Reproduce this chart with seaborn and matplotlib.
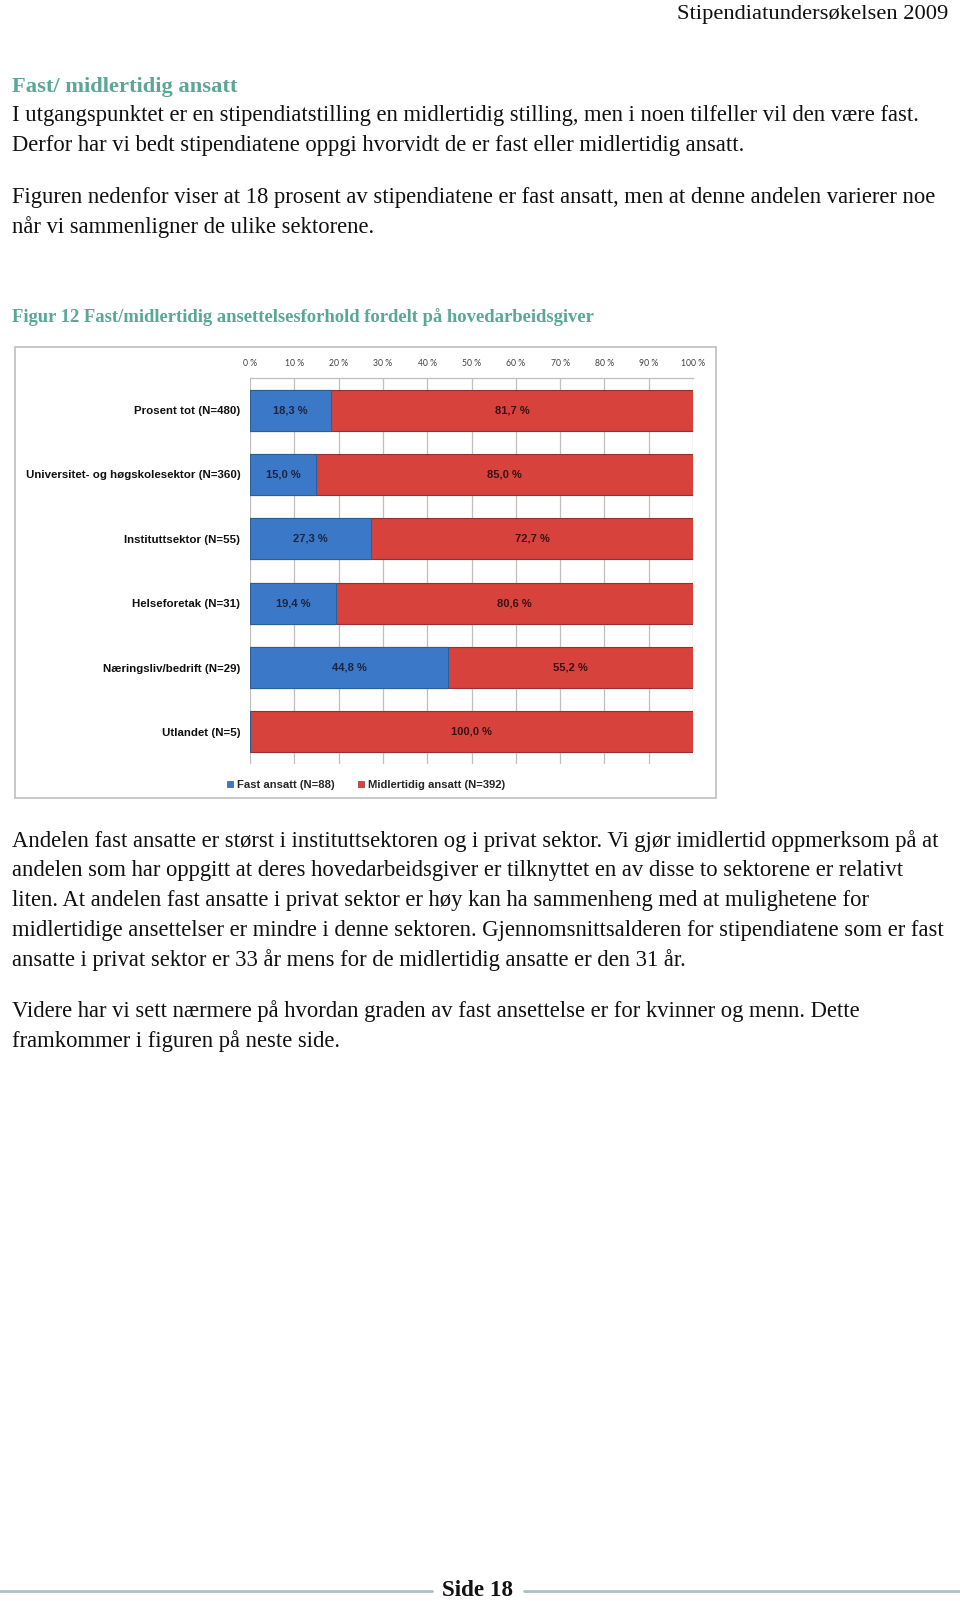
import matplotlib
matplotlib.use("Agg")
import matplotlib.pyplot as plt
import seaborn as sns
import pandas as pd
from matplotlib.patches import Rectangle
from matplotlib.lines import Line2D

# ---------------- data ----------------
categories = [
    "Prosent tot (N=480)",
    "Universitet- og høgskolesektor (N=360)",
    "Instituttsektor (N=55)",
    "Helseforetak (N=31)",
    "Næringsliv/bedrift (N=29)",
    "Utlandet (N=5)",
]
fast = [18.3, 15.0, 27.3, 19.4, 44.8, 0.0]
midlertidig = [81.7, 85.0, 72.7, 80.6, 55.2, 100.0]
ticks = [0, 10, 20, 30, 40, 50, 60, 70, 80, 90, 100]
tick_labels = [f"{t} %" for t in ticks]
legend_labels = ["Fast ansatt (N=88)", "Midlertidig ansatt (N=392)"]

header = "Stipendiatundersøkelsen 2009"
heading = "Fast/ midlertidig ansatt"
para1 = [
    "I utgangspunktet er en stipendiatstilling en midlertidig stilling, men i noen tilfeller vil den være fast.",
    "Derfor har vi bedt stipendiatene oppgi hvorvidt de er fast eller midlertidig ansatt.",
]
para2 = [
    "Figuren nedenfor viser at 18 prosent av stipendiatene er fast ansatt, men at denne andelen varierer noe",
    "når vi sammenligner de ulike sektorene.",
]
fig_caption = "Figur 12 Fast/midlertidig ansettelsesforhold fordelt på hovedarbeidsgiver"
para3 = [
    "Andelen fast ansatte er størst i instituttsektoren og i privat sektor. Vi gjør imidlertid oppmerksom på at",
    "andelen som har oppgitt at deres hovedarbeidsgiver er tilknyttet en av disse to sektorene er relativt",
    "liten. At andelen fast ansatte i privat sektor er høy kan ha sammenheng med at mulighetene for",
    "midlertidige ansettelser er mindre i denne sektoren. Gjennomsnittsalderen for stipendiatene som er fast",
    "ansatte i privat sektor er 33 år mens for de midlertidig ansatte er den 31 år.",
]
para4 = [
    "Videre har vi sett nærmere på hvordan graden av fast ansettelse er for kvinner og menn. Dette",
    "framkommer i figuren på neste side.",
]
footer = "Side 18"

# ---------------- style ----------------
sns.set_style("white")
plt.rcParams["font.family"] = ["Liberation Serif", "DejaVu Sans"]

BLUE = "#3B79C8"
BLUE_EDGE = "#2D5E9C"
RED = "#D7423D"
RED_EDGE = "#9C2E2A"
TEAL = "#5AA697"
GRID = "#BFBFBF"
NARROW = ["Liberation Sans Narrow", "Liberation Sans", "DejaVu Sans"]

W, H = 960, 1601
fig = plt.figure(figsize=(W / 100, H / 100), dpi=100)
fig.patch.set_facecolor("white")


def fx(x):
    return x / W


def fy(y):
    return 1 - y / H


# ---------------- page text ----------------
body_fs = 16.3
fig.text(fx(948), fy(14), header, ha="right", va="center", fontsize=16.2, color="#111111")
fig.text(fx(12), fy(87), heading, ha="left", va="center", fontsize=16.2, fontweight="bold", color=TEAL)
for i, line in enumerate(para1):
    fig.text(fx(12), fy(116 + i * 30), line, ha="left", va="center", fontsize=body_fs, color="#111111")
for i, line in enumerate(para2):
    fig.text(fx(12), fy(197 + i * 30), line, ha="left", va="center", fontsize=body_fs, color="#111111")
fig.text(fx(12), fy(317), fig_caption, ha="left", va="center", fontsize=13.4, fontweight="bold", color=TEAL)
for i, line in enumerate(para3):
    fig.text(fx(12), fy(841 + i * 29.8), line, ha="left", va="center", fontsize=body_fs, color="#111111")
for i, line in enumerate(para4):
    fig.text(fx(12), fy(1011 + i * 30), line, ha="left", va="center", fontsize=body_fs, color="#111111")

# footer
fig.add_artist(Line2D([0, fx(432)], [fy(1591), fy(1591)], color="#A9C2C2", lw=2))
fig.add_artist(Line2D([fx(524), 1], [fy(1591), fy(1591)], color="#A9C2C2", lw=2))
fig.text(fx(478), fy(1590), footer, ha="center", va="center", fontsize=16.6, fontweight="bold", color="#111111")

# chart frame
fig.add_artist(Rectangle((fx(15), fy(798)), fx(716) - fx(15), (798 - 347) / H,
                         transform=fig.transFigure, fill=False, edgecolor=GRID, lw=1.2))

# ---------------- chart ----------------
ax = fig.add_axes([fx(250), fy(764), fx(693) - fx(250), (764 - 378) / H])
df = pd.DataFrame({"kategori": categories, "fast": fast, "midlertidig": midlertidig})
df["total"] = df["fast"] + df["midlertidig"]

sns.barplot(data=df, y="kategori", x="total", orient="h", color=RED, saturation=1,
            width=0.64, edgecolor=RED_EDGE, linewidth=0.8, ax=ax, zorder=2)
sns.barplot(data=df, y="kategori", x="fast", orient="h", color=BLUE, saturation=1,
            width=0.64, edgecolor=BLUE_EDGE, linewidth=0.8, ax=ax, zorder=3)

for i, (f, m) in enumerate(zip(fast, midlertidig)):
    if f > 0:
        ax.text(f / 2, i, f"{f:.1f} %".replace(".", ","), ha="center", va="center",
                fontsize=8, fontweight="bold", color="#1A2440", family=NARROW, zorder=5)
    if m > 0:
        ax.text(f + m / 2, i, f"{m:.1f} %".replace(".", ","), ha="center", va="center",
                fontsize=8, fontweight="bold", color="#3A1010", family=NARROW, zorder=5)

ax.set_xlim(0, 100)
ax.set_ylim(len(categories) - 0.5, -0.5)
ax.set_xticks(ticks)
ax.set_xticklabels(tick_labels, family=["Lato", "DejaVu Sans"], fontsize=6.2, color="#404040")
ax.xaxis.tick_top()
ax.tick_params(axis="x", length=0, pad=7)
ax.tick_params(axis="y", length=0, pad=7)
ax.set_yticks(range(len(categories)))
ax.set_yticklabels(categories, family=NARROW, fontsize=8.25, fontweight="bold", color="#111111")
ax.set_xlabel("")
ax.set_ylabel("")
ax.xaxis.grid(True, color=GRID, lw=0.9)
ax.yaxis.grid(False)
ax.set_axisbelow(True)
for s in ["left", "right", "bottom"]:
    ax.spines[s].set_visible(False)
ax.spines["top"].set_color(GRID)
ax.spines["top"].set_linewidth(0.9)
ax.set_facecolor("none")

handles = [Rectangle((0, 0), 1, 1, facecolor=BLUE, edgecolor=BLUE_EDGE, lw=0.5),
           Rectangle((0, 0), 1, 1, facecolor=RED, edgecolor=RED_EDGE, lw=0.5)]
fig.legend(handles, legend_labels, loc="center", bbox_to_anchor=(fx(366), fy(785)), ncol=2,
           frameon=False, prop={"family": NARROW, "size": 8.1, "weight": "bold"},
           handlelength=0.55, handleheight=0.55, handletextpad=0.3, columnspacing=2.1)

fig.savefig("out.png", dpi=100, facecolor="white")
